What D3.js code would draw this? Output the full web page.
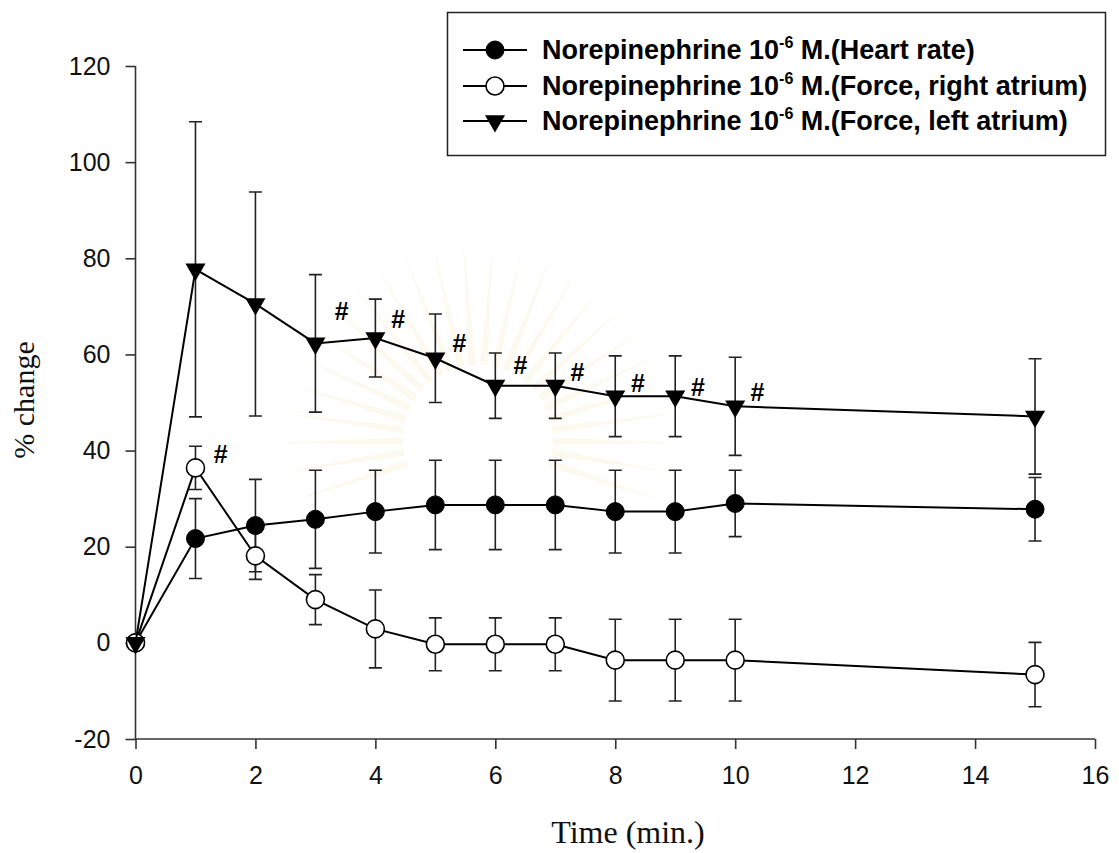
<!DOCTYPE html>
<html>
<head>
<meta charset="utf-8">
<script src="https://cdn.jsdelivr.net/npm/d3@7"></script>
<style>
  body { margin: 0; background: #fff; }
  svg { display: block; }
</style>
</head>
<body>
<svg id="chart" width="1119" height="853"></svg>
<script>
// Sampling times (min.)
const times = [0, 1, 2, 3, 4, 5, 6, 7, 8, 9, 10, 15];

// % change, mean and SEM for each series
const heartRate      = [0, 21.7, 24.4, 25.7, 27.3, 28.7, 28.7, 28.7, 27.3, 27.3, 29.0, 27.8];
const heartRateErr   = [0,  8.3,  9.6, 10.2,  8.6,  9.3,  9.3,  9.3,  8.6,  8.6,  6.9,  6.6];
const rightAtrium    = [0, 36.4, 18.1,  9.0,  2.9, -0.3, -0.3, -0.3, -3.6, -3.6, -3.6, -6.6];
const rightAtriumErr = [0,  4.5,  4.9,  5.2,  8.1,  5.5,  5.5,  5.5,  8.5,  8.5,  8.5,  6.7];
const leftAtrium     = [0, 77.7, 70.5, 62.3, 63.4, 59.2, 53.5, 53.5, 51.3, 51.3, 49.2, 47.1];
const leftAtriumErr  = [0, 30.7, 23.3, 14.3,  8.1,  9.2,  6.8,  6.8,  8.4,  8.4, 10.2, 12.0];

// Significance marks (#): position in data units
const hashLeftX  = [3.44, 4.38, 5.40, 6.42, 7.37, 8.38, 9.38, 10.37];
const hashLeftY  = [69.0, 67.4, 62.3, 57.8, 56.3, 54.1, 53.2, 52.1];
const hashRightX = [1.42];
const hashRightY = [39.2];

// Axis ticks
const xTicks = [0, 2, 4, 6, 8, 10, 12, 14, 16];
const yTicks = [-20, 0, 20, 40, 60, 80, 100, 120];

const seriesNames = [
  "(Heart rate)",
  "(Force, right atrium)",
  "(Force, left atrium)"
];

const svg = d3.select("#chart");
const x = d3.scaleLinear().domain([0, 16]).range([135.5, 1095]);
const y = d3.scaleLinear().domain([-20, 120]).range([739, 66]);

const axisColor = "#333";

// ---- very faint emblem rays behind the plot ----
const wm = svg.append("g").attr("transform", "translate(478,440)");
const rayCount = 26;
for (let i = 0; i < rayCount; i++) {
  const a = -Math.PI + (i + 0.5) * (Math.PI * 1.25 / rayCount) - Math.PI * 0.125;
  const a0 = a - 0.05, a1 = a + 0.05;
  const r0 = 75, r1 = 200;
  wm.append("path")
    .attr("d", `M${r0 * Math.cos(a0)},${r0 * Math.sin(a0)}L${r1 * Math.cos(a)},${r1 * Math.sin(a)}L${r0 * Math.cos(a1)},${r0 * Math.sin(a1)}Z`)
    .attr("fill", "#f8f2dc").attr("opacity", 0.45);
}

// ---- axes ----
const fmt = d => String(d);   // plain hyphen for negatives
const xAxis = svg.append("g")
  .attr("transform", `translate(0,${y(-20)})`)
  .call(d3.axisBottom(x).tickValues(xTicks).tickSize(10).tickPadding(17).tickFormat(fmt));
const yAxis = svg.append("g")
  .attr("transform", `translate(${x(0)},0)`)
  .call(d3.axisLeft(y).tickValues(yTicks).tickSize(10).tickPadding(15).tickFormat(fmt));

[xAxis, yAxis].forEach(g => {
  g.select(".domain").attr("stroke", axisColor).attr("stroke-width", 1.6);
  g.selectAll(".tick line").attr("stroke", axisColor).attr("stroke-width", 1.6);
  g.selectAll(".tick text")
    .attr("fill", "#111")
    .style("font-family", "Arial, 'Liberation Sans', sans-serif")
    .style("font-size", "25px");
});
// keep the axis lines flat (no outer ticks)
xAxis.select(".domain").attr("d", `M${x(0)},0H${x(16)}`);
yAxis.select(".domain").attr("d", `M0,${y(-20)}V${y(120)}`);

// axis titles
svg.append("text")
  .attr("x", 628).attr("y", 843)
  .attr("text-anchor", "middle")
  .style("font-family", "'Times New Roman', 'Liberation Serif', serif")
  .style("font-size", "32px")
  .attr("fill", "#111")
  .text("Time (min.)");

svg.append("text")
  .attr("transform", "translate(34,400) rotate(-90)")
  .attr("text-anchor", "middle")
  .style("font-family", "'Times New Roman', 'Liberation Serif', serif")
  .style("font-size", "30px")
  .attr("fill", "#111")
  .text("% change");

// ---- series ----
const series = [
  { values: heartRate,   errs: heartRateErr,   marker: "filled"   },
  { values: rightAtrium, errs: rightAtriumErr, marker: "open"     },
  { values: leftAtrium,  errs: leftAtriumErr,  marker: "triangle" }
];

const line = d3.line().x(d => x(d.t)).y(d => y(d.v));
const capHalf = 6.5;

// error bars first, so markers sit on top
series.forEach(s => {
  const pts = times.map((t, i) => ({ t, v: s.values[i], e: s.errs[i] })).filter(p => p.e > 0);
  const g = svg.append("g").attr("stroke", "#222").attr("stroke-width", 1.6).attr("fill", "none");
  g.selectAll("path.err").data(pts).join("path")
    .attr("d", p => {
      const px = x(p.t), top = y(p.v + p.e), bot = y(p.v - p.e);
      return `M${px},${top}V${bot}M${px - capHalf},${top}H${px + capHalf}M${px - capHalf},${bot}H${px + capHalf}`;
    });
});

const triangle = d3.symbol().type(d3.symbolTriangle).size(175);

function drawMarker(g, kind, cx, cy) {
  if (kind === "filled") {
    g.append("circle").attr("cx", cx).attr("cy", cy).attr("r", 9)
      .attr("fill", "#000").attr("stroke", "#000").attr("stroke-width", 1);
  } else if (kind === "open") {
    g.append("circle").attr("cx", cx).attr("cy", cy).attr("r", 9)
      .attr("fill", "#fff").attr("stroke", "#000").attr("stroke-width", 1.6);
  } else {
    g.append("path").attr("d", triangle)
      .attr("transform", `translate(${cx},${cy}) rotate(180)`)
      .attr("fill", "#000");
  }
}

series.forEach(s => {
  const pts = times.map((t, i) => ({ t, v: s.values[i] }));
  svg.append("path").datum(pts)
    .attr("d", line)
    .attr("fill", "none").attr("stroke", "#000").attr("stroke-width", 2);
  const g = svg.append("g");
  pts.forEach(p => drawMarker(g, s.marker, x(p.t), y(p.v)));
});

// ---- significance marks ----
const hashStyle = sel => sel
  .attr("text-anchor", "middle")
  .attr("dominant-baseline", "central")
  .style("font-family", "Arial, 'Liberation Sans', sans-serif")
  .style("font-weight", "bold")
  .style("font-size", "25px")
  .attr("fill", "#000")
  .text("#");

svg.append("g").selectAll("text")
  .data(hashLeftX.map((v, i) => [v, hashLeftY[i]]).concat(hashRightX.map((v, i) => [v, hashRightY[i]])))
  .join("text")
  .attr("x", d => x(d[0])).attr("y", d => y(d[1]))
  .call(hashStyle);

// ---- legend ----
const legend = svg.append("g");
legend.append("rect")
  .attr("x", 447.5).attr("y", 12.5).attr("width", 658).attr("height", 143)
  .attr("fill", "#fff").attr("stroke", "#222").attr("stroke-width", 1.5);

const rowY = [50, 86, 121];
const markerKinds = ["filled", "open", "triangle"];
rowY.forEach((ry, i) => {
  legend.append("line")
    .attr("x1", 463).attr("x2", 527).attr("y1", ry).attr("y2", ry)
    .attr("stroke", "#000").attr("stroke-width", 2);
  drawMarker(legend, markerKinds[i], 495, ry);
  const t = legend.append("text")
    .attr("x", 542).attr("y", ry + 9)
    .style("font-family", "Arial, 'Liberation Sans', sans-serif")
    .style("font-weight", "bold")
    .style("font-size", "27px")
    .attr("fill", "#000");
  t.append("tspan").text("Norepinephrine 10");
  t.append("tspan").attr("dy", -11).style("font-size", "16px").text("-6");
  t.append("tspan").attr("dy", 11).text(" M." + seriesNames[i]);
});
</script>
</body>
</html>
